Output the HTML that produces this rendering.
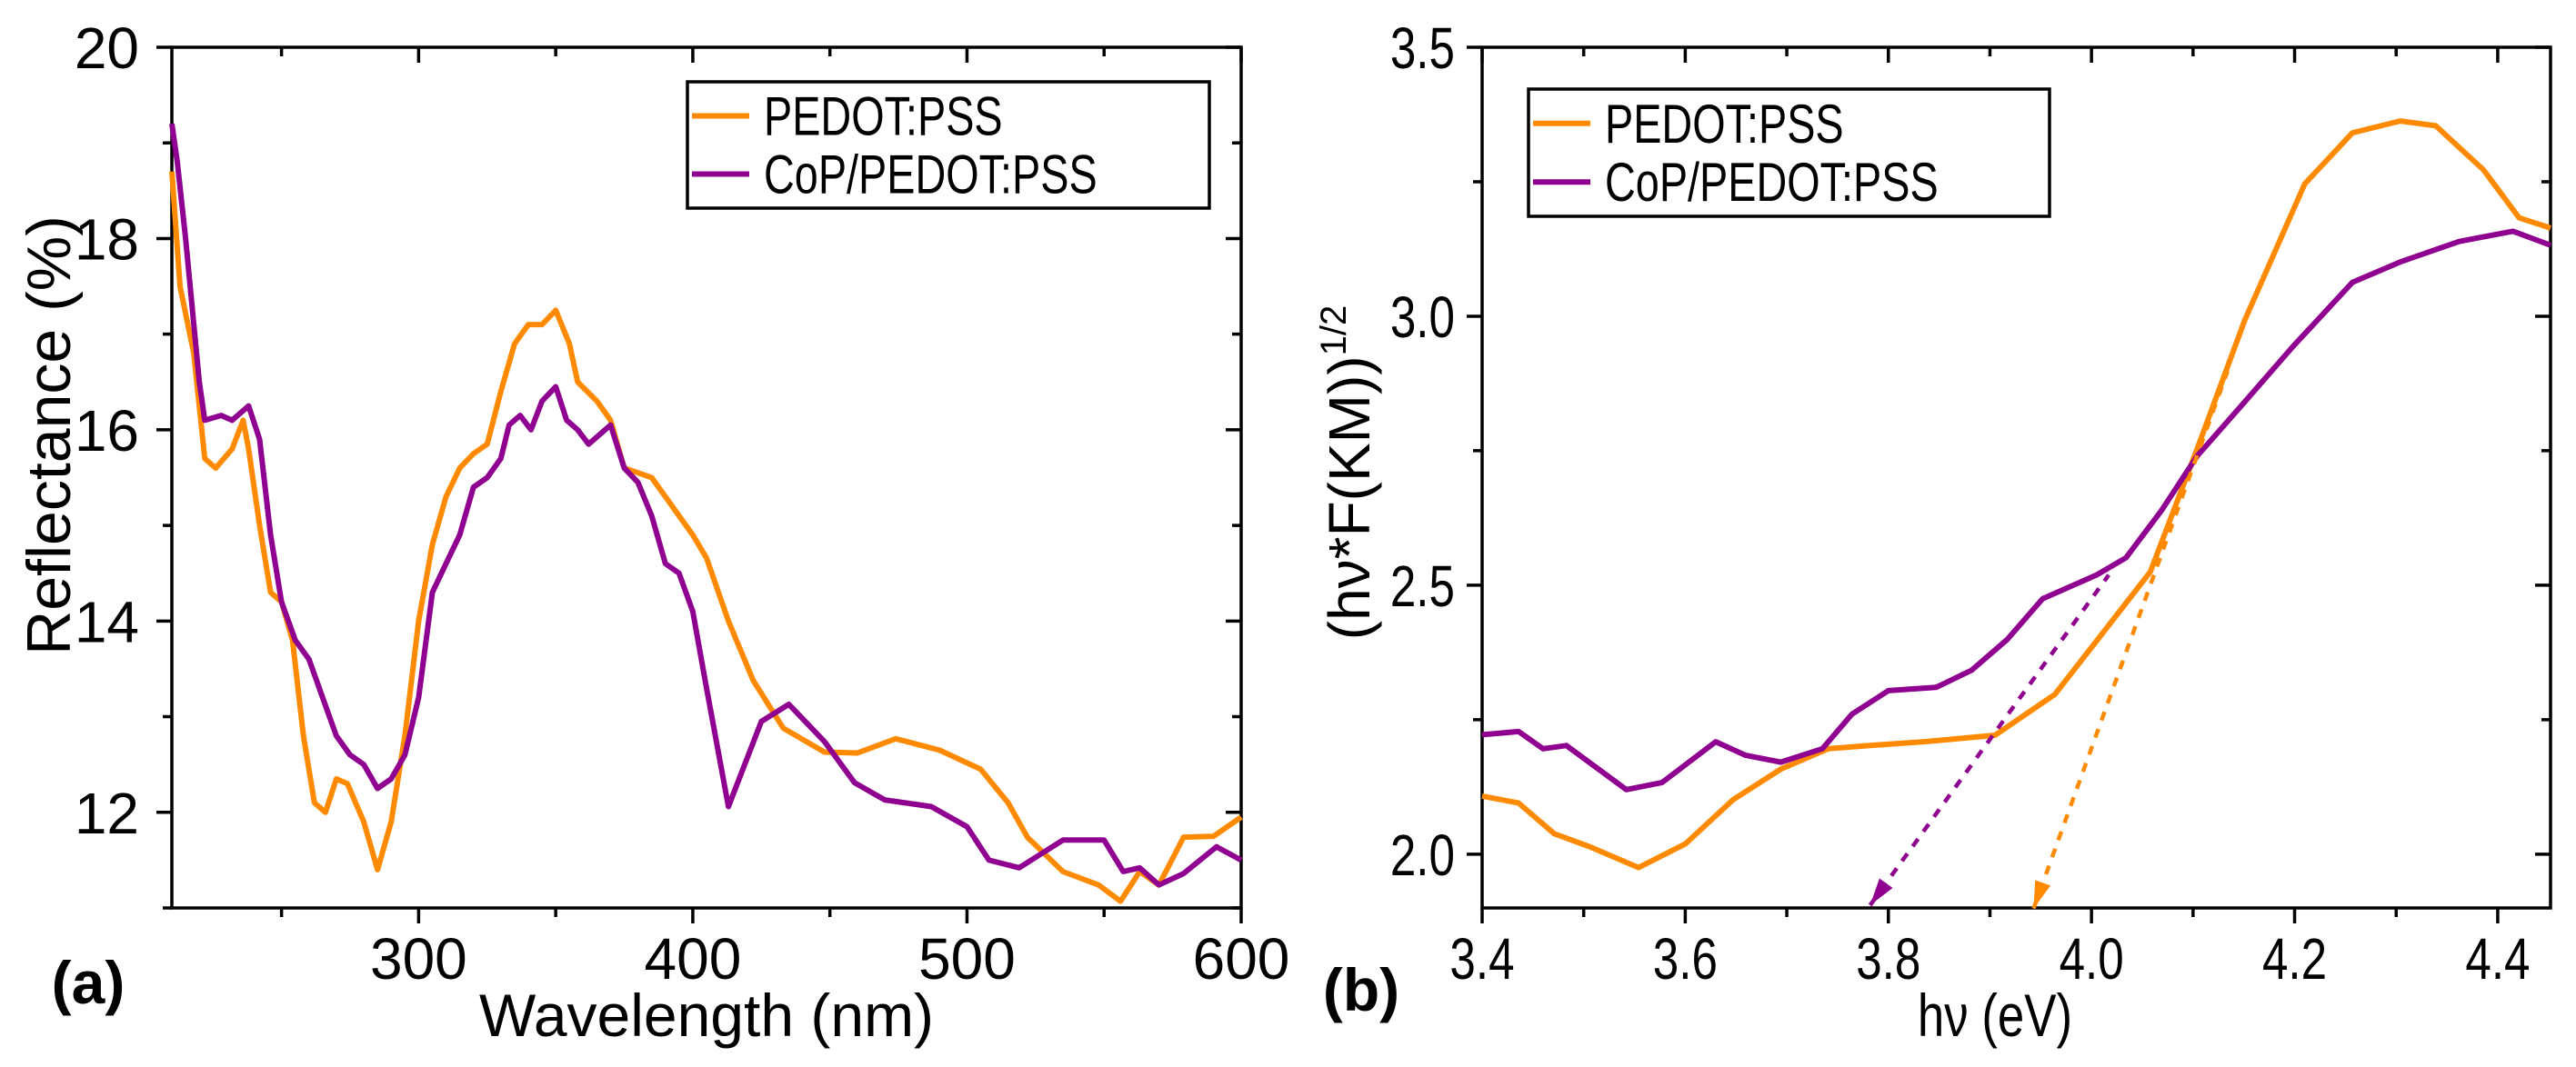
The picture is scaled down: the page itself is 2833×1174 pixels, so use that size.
<!DOCTYPE html>
<html><head><meta charset="utf-8"><style>
body{margin:0;background:#fff}
svg{display:block}
text{font-family:"Liberation Sans",sans-serif;fill:#000}
</style></head><body>
<svg id="chart" width="2833" height="1174" viewBox="0 0 2833 1174" xmlns="http://www.w3.org/2000/svg">
<g id="pa"></g>
<g id="pb"></g>
</svg>
<script>
// Panel (a) data
const aPedotX=[210,213,218,222,226,232,236,238,242,246,250,254,258,262,266,270,274,280,285,290,295,300,305,310,315,320,325,330,335,340,345,350,355,358,365,370,375,380,385,390,395,400,405,413,422,433,448,460,474,490,505,515,522,535,548,556,563,570,579,590,600];
const aPedotY=[18.7,17.5,16.8,15.7,15.6,15.8,16.1,15.8,15.0,14.3,14.2,13.8,12.8,12.1,12.0,12.35,12.3,11.9,11.4,11.9,12.8,14.0,14.8,15.3,15.6,15.75,15.85,16.4,16.9,17.1,17.1,17.25,16.9,16.5,16.3,16.1,15.6,15.55,15.5,15.3,15.1,14.9,14.66,14.0,13.38,12.88,12.63,12.62,12.77,12.65,12.45,12.1,11.74,11.38,11.24,11.07,11.38,11.24,11.74,11.75,11.95];
const aCopX=[210,212,215,220,222,228,232,238,242,246,250,255,260,265,270,275,280,285,290,295,300,305,310,315,320,325,330,333,337,341,345,350,354,358,362,370,375,380,385,390,395,400,405,413,425,435,448,459,470,487,500,508,519,535,550,557,563,570,579,591,600];
const aCopY=[19.2,18.8,18.0,16.5,16.1,16.15,16.1,16.25,15.9,14.9,14.2,13.8,13.6,13.2,12.8,12.6,12.5,12.25,12.35,12.6,13.2,14.3,14.6,14.9,15.4,15.5,15.7,16.05,16.15,16.0,16.3,16.45,16.1,16.0,15.85,16.05,15.6,15.45,15.1,14.6,14.5,14.1,13.3,12.06,12.95,13.13,12.74,12.31,12.13,12.06,11.85,11.5,11.42,11.71,11.71,11.38,11.42,11.24,11.36,11.64,11.5];
const aXTicks=[300,400,500,600];
const aYTicks=[12,14,16,18,20];
// Panel (b) data
const bPedotX=[3.4,3.436,3.471,3.507,3.554,3.6,3.647,3.694,3.741,3.788,3.835,3.905,3.964,4.011,4.058,4.104,4.151,4.21,4.257,4.304,4.339,4.386,4.421,4.452];
const bPedotY=[2.108,2.095,2.038,2.013,1.975,2.019,2.101,2.158,2.196,2.203,2.209,2.221,2.297,2.411,2.525,2.753,2.993,3.246,3.341,3.363,3.354,3.272,3.183,3.164];
const bCopX=[3.4,3.436,3.46,3.483,3.542,3.577,3.63,3.659,3.694,3.735,3.764,3.8,3.847,3.882,3.917,3.952,4.005,4.034,4.069,4.104,4.151,4.198,4.257,4.304,4.362,4.415,4.452];
const bCopY=[2.222,2.228,2.196,2.202,2.120,2.133,2.209,2.184,2.171,2.196,2.260,2.304,2.310,2.342,2.399,2.475,2.519,2.551,2.639,2.740,2.841,2.943,3.063,3.101,3.139,3.158,3.132];
const bPedotFitX=[3.943,4.134];
const bPedotFitY=[1.899,2.898];
const bCopFitX=[3.782,4.017];
const bCopFitY=[1.905,2.519];
const bXTicks=[3.4,3.6,3.8,4.0,4.2,4.4];
const bXTickLabels=["3.4","3.6","3.8","4.0","4.2","4.4"];
const bYTicks=[2.0,2.5,3.0,3.5];
const bYTickLabels=["2.0","2.5","3.0","3.5"];

const NS="http://www.w3.org/2000/svg";
const ORANGE="#ff8a00", PURPLE="#900090";
function mk(parent,tag,attrs){const e=document.createElementNS(NS,tag);for(const k in attrs)e.setAttribute(k,attrs[k]);parent.appendChild(e);return e;}
function lin(d0,d1,r0,r1){return v=>r0+(v-d0)/(d1-d0)*(r1-r0);}

function axesFrame(g,L,T,R,B,xs,ys,xmaj,xmin,ymaj,ymin){
  const fr=mk(g,'rect',{x:L,y:T,width:R-L,height:B-T,fill:'none',stroke:'#000','stroke-width':3.5});
  
  
  let p='';
  xmaj.forEach(v=>{const x=xs(v);p+=`M${x},${B}v17M${x},${T}v17`;});
  xmin.forEach(v=>{const x=xs(v);p+=`M${x},${B}v10M${x},${T}v10`;});
  ymaj.forEach(v=>{const y=ys(v);p+=`M${L},${y}h-17M${R},${y}h-17`;});
  ymin.forEach(v=>{const y=ys(v);p+=`M${L},${y}h-10M${R},${y}h-10`;});
  const t=mk(g,'path',{d:p,stroke:'#000','stroke-width':3.5,fill:'none'});
  
  
}
function series(g,X,Y,xs,ys,col,name,dash){
  const d=X.map((v,i)=>(i?'L':'M')+xs(v).toFixed(1)+','+ys(Y[i]).toFixed(1)).join('');
  const a={d:d,fill:'none',stroke:col,'stroke-width':6,'stroke-linejoin':'round'};
  if(dash)a['stroke-dasharray']=dash;
  const e=mk(g,'path',a);
  
  
  return e;
}
function txt(g,x,y,s,size,anchor,name,extra){
  const e=mk(g,'text',Object.assign({x:x,y:y,'font-size':size,'text-anchor':anchor},extra||{}));
  e.textContent=s;
  
  
  return e;
}
function legend(g,x,y,w,h,cond){
  const r=mk(g,'rect',{x:x,y:y,width:w,height:h,fill:'#fff',stroke:'#000','stroke-width':3.5});
  
  
  [[ORANGE,'PEDOT:PSS'],[PURPLE,'CoP/PEDOT:PSS']].forEach((it,i)=>{
    const yy=y+h*(0.27+0.46*i);
    const l=mk(g,'line',{x1:x+5,x2:x+68,y1:yy,y2:yy,stroke:it[0],'stroke-width':6});
    
    
    txt(g,0,0,it[1],60,'start','legend-entry',{transform:`translate(${x+84},${yy+21}) scale(${cond},1)`});
  });
}

// ---- Panel A ----
(function(){
  const g=document.getElementById('pa');
  const L=189,R=1365,T=52,B=999;
  const xs=lin(210,600,L,R), ys=lin(11,20,B,T);
  axesFrame(g,L,T,R,B,xs,ys,aXTicks,[250,350,450,550],aYTicks,[11,13,15,17,19]);
  series(g,aPedotX,aPedotY,xs,ys,ORANGE,'pedot-pss-reflectance-line');
  series(g,aCopX,aCopY,xs,ys,PURPLE,'cop-pedot-pss-reflectance-line');
  aXTicks.forEach(v=>txt(g,xs(v),1077,String(v),64,'middle','x-tick-label'));
  aYTicks.forEach(v=>txt(g,153,ys(v)+23,String(v),64,'end','y-tick-label'));
  txt(g,777,1140,'Wavelength (nm)',66,'middle','x-axis-title');
  txt(g,0,0,'Reflectance (%)',68,'middle','y-axis-title',{transform:'translate(77,479) rotate(-90)'});
  txt(g,97,1104,'(a)',66,'middle','panel-label-a',{'font-weight':'bold'});
  legend(g,756,90,574,139,0.78);
})();

// ---- Panel B ----
(function(){
  const g=document.getElementById('pb');
  const L=1630,R=2805,T=52,B=999;
  const ys=lin(1.9,3.5,B,T);
  const xs2=lin(3.4,4.452,L,R);
  axesFrame(g,L,T,R,B,xs2,ys,bXTicks,[3.5,3.7,3.9,4.1,4.3],bYTicks,[2.25,2.75,3.25]);
  series(g,bPedotX,bPedotY,xs2,ys,ORANGE,'pedot-pss-tauc-line');
  series(g,bCopX,bCopY,xs2,ys,PURPLE,'cop-pedot-pss-tauc-line');
  series(g,bPedotFitX,bPedotFitY,xs2,ys,ORANGE,'pedot-pss-bandgap-fit','10,10').setAttribute('stroke-width',4.5);
  series(g,bCopFitX,bCopFitY,xs2,ys,PURPLE,'cop-pedot-pss-bandgap-fit','10,10').setAttribute('stroke-width',4.5);
  [[bPedotFitX,bPedotFitY,ORANGE,'pedot-pss-bandgap-arrow'],[bCopFitX,bCopFitY,PURPLE,'cop-pedot-pss-bandgap-arrow']].forEach(f=>{
    const x0=xs2(f[0][0]),y0=ys(f[1][0]),x1=xs2(f[0][1]),y1=ys(f[1][1]);
    const len=Math.hypot(x1-x0,y1-y0),ux=(x1-x0)/len,uy=(y1-y0)/len;
    const bx=x0+ux*30,by=y0+uy*30;
    const a=mk(g,'polygon',{points:`${x0},${y0} ${bx-uy*9},${by+ux*9} ${bx+uy*9},${by-ux*9}`,fill:f[2]});
    
    
  });
  bXTicks.forEach((v,i)=>txt(g,0,0,bXTickLabels[i],64,'middle','x-tick-label',{transform:`translate(${xs2(v)},1077) scale(0.8,1)`}));
  bYTicks.forEach((v,i)=>txt(g,0,0,bYTickLabels[i],64,'end','y-tick-label',{transform:`translate(1600,${ys(v)+23}) scale(0.8,1)`}));
  txt(g,0,0,'hν (eV)',66,'middle','x-axis-title',{transform:'translate(2194,1140) scale(0.8,1)'});
  const yt=txt(g,0,0,'(hν*F(KM))',64,'middle','y-axis-title',{transform:'translate(1506,520) rotate(-90)'});
  const sup=mk(yt,'tspan',{'font-size':40,dy:-26});
  sup.textContent='1/2';
  txt(g,1497,1112,'(b)',66,'middle','panel-label-b',{'font-weight':'bold'});
  legend(g,1681,98,573,140,0.78);
})();
</script>
</body></html>
